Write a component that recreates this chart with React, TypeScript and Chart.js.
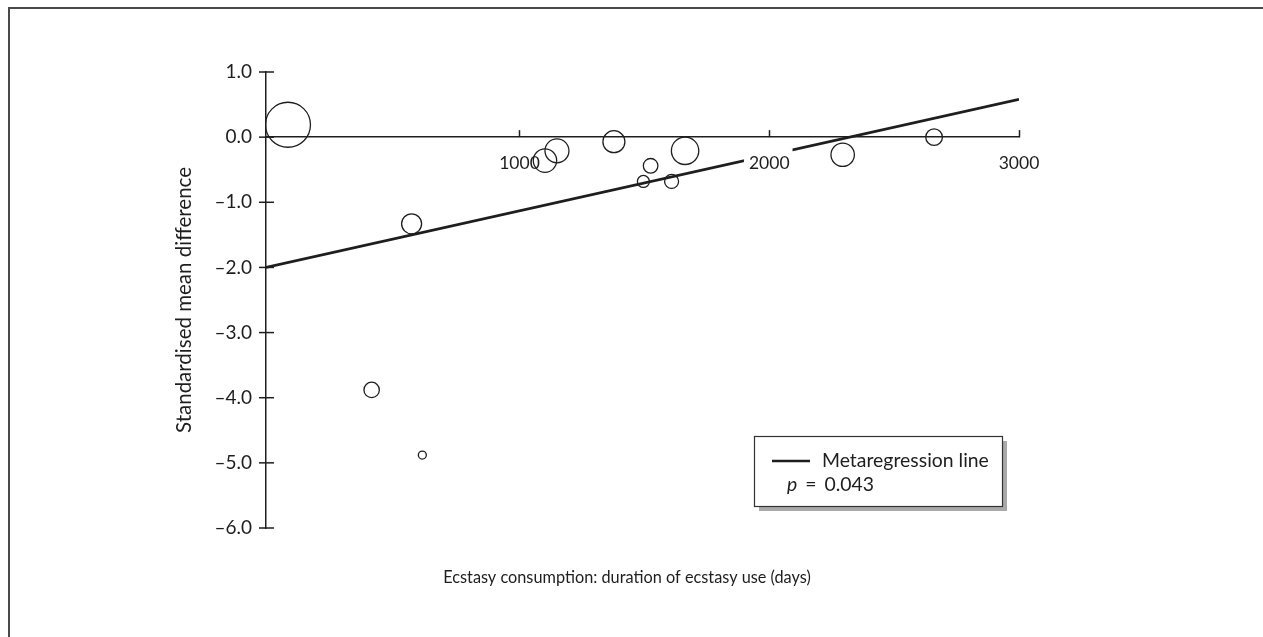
import React, { useEffect, useRef } from "react";
import { Chart, registerables } from "chart.js";

Chart.register(...registerables);

// Study data: duration of ecstasy use (days), standardised mean difference, study weight (bubble radius)
const studyDuration = [73, 408, 568, 611, 1102, 1150, 1378, 1496, 1525, 1609, 1663, 2294, 2660];
const studySMD = [0.19, -3.88, -1.33, -4.88, -0.36, -0.21, -0.07, -0.68, -0.44, -0.68, -0.21, -0.27, 0.0];
const studyWeight = [22.5, 7.7, 10, 4, 11.7, 12, 11, 6, 7.3, 7, 13.7, 11.7, 8.3];

// Metaregression line endpoints
const lineDuration = [-15, 3000];
const lineSMD = [-2.0, 0.58];

// Axis ticks
const xTicks = [1000, 2000, 3000];
const yTicks = [1, 0, -1, -2, -3, -4, -5, -6];

const xTitle = "Ecstasy consumption: duration of ecstasy use (days)";
const yTitle = "Standardised mean difference";
const legendLine = "Metaregression line";
const legendP = "0.043";

const FONT = "Lato, 'Open Sans', sans-serif";
const INK = "#1e1e1e";

const fmtY = (v: number) => (v < 0 ? "\u2013" + Math.abs(v).toFixed(1) : v.toFixed(1));

const decorPlugin = {
  id: "decor",
  afterDatasetDraw(chart: any, args: any) {
    // redraw x tick labels (with white backdrop) on top of the regression line
    if (args.index === 1) {
      chart.scales.x.drawLabels(chart.chartArea);
    }
  },
  afterDraw(chart: any) {
    const ctx = chart.ctx;
    const xs = chart.scales.x;
    const ys = chart.scales.y;
    const ca = chart.chartArea;
    const y0 = ys.getPixelForValue(0);
    ctx.save();
    ctx.strokeStyle = INK;
    ctx.lineWidth = 1.5;
    // x tick marks (upwards)
    xTicks.forEach((v) => {
      const px = Math.round(xs.getPixelForValue(v)) + 0.5;
      ctx.beginPath();
      ctx.moveTo(px, y0);
      ctx.lineTo(px, y0 - 7);
      ctx.stroke();
    });
    // y tick marks (crossing)
    const ax = ca.left;
    yTicks.forEach((v) => {
      const py = ys.getPixelForValue(v);
      ctx.beginPath();
      ctx.moveTo(ax - 7, py);
      ctx.lineTo(ax + 8, py);
      ctx.stroke();
    });

    // x axis title
    ctx.fillStyle = INK;
    ctx.font = `16.3px ${FONT}`;
    ctx.textAlign = "center";
    ctx.textBaseline = "middle";
    ctx.fillText(xTitle, ca.left + 361, ca.bottom + 50);

    // legend box with shadow
    const lx = ca.right - 265;
    const ly = ca.top + 364;
    const lw = 248;
    const lh = 70;
    ctx.fillStyle = "#a9a9a9";
    ctx.fillRect(lx + 5, ly + 5, lw, lh);
    ctx.fillStyle = "#ffffff";
    ctx.fillRect(lx, ly, lw, lh);
    ctx.strokeStyle = "#333";
    ctx.lineWidth = 1.2;
    ctx.strokeRect(lx + 0.5, ly + 0.5, lw, lh);
    ctx.strokeStyle = INK;
    ctx.lineWidth = 2.5;
    ctx.beginPath();
    ctx.moveTo(lx + 18, ly + 25);
    ctx.lineTo(lx + 56, ly + 25);
    ctx.stroke();
    ctx.fillStyle = INK;
    ctx.textAlign = "left";
    ctx.textBaseline = "middle";
    ctx.font = `19.4px ${FONT}`;
    ctx.fillText(legendLine, lx + 68, ly + 25);
    ctx.font = `italic 19.4px ${FONT}`;
    ctx.fillText("p", lx + 33, ly + 49);
    const pw = ctx.measureText("p").width;
    ctx.font = `19.4px ${FONT}`;
    ctx.fillText("=", lx + 33 + pw + 8, ly + 49);
    const ew = ctx.measureText("=").width;
    ctx.fillText(legendP, lx + 33 + pw + 8 + ew + 8, ly + 49);
    ctx.restore();
  },
};

export default function App() {
  const ref = useRef<HTMLCanvasElement | null>(null);
  useEffect(() => {
    document.documentElement.style.overflow = "hidden";
    document.body.style.overflow = "hidden";
    if (!ref.current) return;
    const chart = new Chart(ref.current, {
      type: "bubble",
      data: {
        datasets: [
          {
            type: "bubble",
            label: "Studies",
            data: studyDuration.map((d, i) => ({ x: d, y: studySMD[i], r: studyWeight[i] })),
            backgroundColor: "rgba(255,255,255,0)",
            borderColor: INK,
            borderWidth: 1.3,
            order: 1,
          } as any,
          {
            type: "line",
            label: "Metaregression line",
            data: lineDuration.map((d, i) => ({ x: d, y: lineSMD[i] })),
            borderColor: INK,
            borderWidth: 2.6,
            pointRadius: 0,
            fill: false,
            order: 2,
          } as any,
        ],
      },
      options: {
        animation: false,
        responsive: false,
        devicePixelRatio: 1,
        layout: { padding: { left: 164, right: 244, top: 72, bottom: 109 } },
        plugins: {
          legend: { display: false },
          tooltip: { enabled: false },
        },
        scales: {
          x: {
            type: "linear",
            position: { y: 0 } as any,
            min: lineDuration[0],
            max: 3000,
            afterBuildTicks: (s: any) => {
              s.ticks = xTicks.map((v) => ({ value: v }));
            },
            afterFit: (s: any) => {
              s.height = 0;
            },
            grid: { display: false, drawTicks: false },
            border: { display: true, color: INK, width: 1.5 },
            ticks: {
              color: INK,
              font: { family: FONT, size: 17.5 },
              padding: 16,
              maxRotation: 0,
              autoSkip: false,
              showLabelBackdrop: true,
              backdropColor: "#ffffff",
              backdropPadding: { left: 5, right: 3, top: 5, bottom: 1 },
              callback: (v: any) => String(v),
            } as any,
          },
          y: {
            type: "linear",
            position: "left",
            min: -6,
            max: 1,
            afterBuildTicks: (s: any) => {
              s.ticks = yTicks.map((v) => ({ value: v }));
            },
            afterFit: (s: any) => {
              s.width = 102;
            },
            grid: { display: false, drawTicks: false },
            border: { display: true, color: INK, width: 1.5 },
            ticks: {
              color: INK,
              font: { family: FONT, size: 19 },
              padding: 14,
              callback: (v: any) => fmtY(Number(v)),
            },
            title: {
              display: true,
              text: yTitle,
              color: INK,
              font: { family: FONT, size: 20.5 },
              padding: { top: 8, bottom: 0 },
            },
          },
        },
      },
      plugins: [decorPlugin],
    });
    return () => chart.destroy();
  }, []);

  return (
    <>
      <div
        style={{
          position: "fixed",
          left: 8,
          top: 7,
          right: 0,
          bottom: 0,
          borderTop: "2px solid #4a4a4a",
          borderLeft: "2px solid #4a4a4a",
          background: "#fff",
        }}
      />
      <canvas
        ref={ref}
        width={1263}
        height={637}
        style={{ position: "fixed", left: 0, top: 0, width: 1263, height: 637 }}
      />
    </>
  );
}
